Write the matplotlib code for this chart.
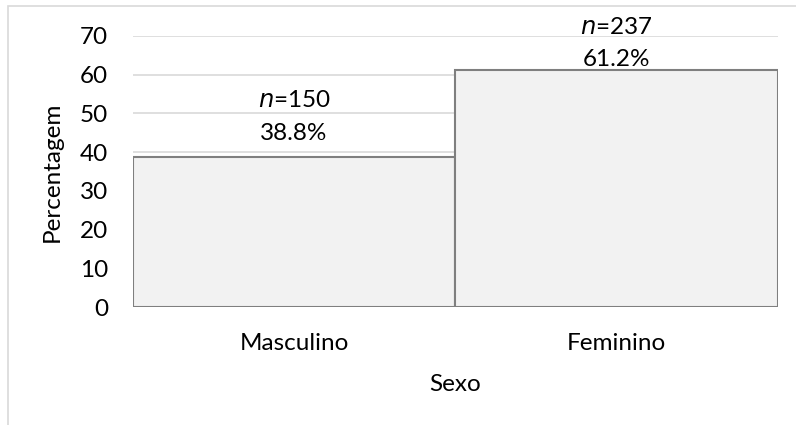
import matplotlib.pyplot as plt
from matplotlib.patches import Rectangle

# Distribuicao por sexo
categorias = ['Masculino', 'Feminino']
percentagens = [38.8, 61.2]
contagens = [150, 237]
yticks = [0, 10, 20, 30, 40, 50, 60, 70]

plt.rcParams['font.family'] = ['Lato', 'DejaVu Sans']
fs = 17.5

fig = plt.figure(figsize=(7.96, 4.25), dpi=100)
ax = fig.add_axes([0.167, 0.2776, 0.810, 0.638])

# moldura do grafico (estilo Excel)
fig.add_artist(Rectangle((8 / 796, -0.2), 1.2, (425 - 6) / 425 + 0.2,
                         transform=fig.transFigure, fill=False,
                         edgecolor='#d9d9d9', linewidth=1.2))

x = list(range(len(categorias)))
ax.bar(x, percentagens, width=1.0, color='#f2f2f2', edgecolor='#7f7f7f',
       linewidth=1.5, zorder=3)

ax.set_xlim(-0.5, 1.5)
ax.set_ylim(0, 70)
ax.set_yticks(yticks)
ax.yaxis.grid(True, color='#d9d9d9', linewidth=1.2, zorder=0)
ax.set_axisbelow(True)
for s in ax.spines.values():
    s.set_visible(False)
ax.tick_params(length=0, labelsize=fs, pad=18)
ax.tick_params(axis='x', pad=19)
ax.set_xticks(x)
ax.set_xticklabels(categorias)

# rotulos: percentagem e n por cima de cada barra
offsets = [(9, 24), (0, 23)]
for xi, p, n, (o1, o2) in zip(x, percentagens, contagens, offsets):
    ax.annotate(f'{p:.1f}%', (xi, p), xytext=(0, o1), textcoords='offset points',
                ha='center', va='bottom', fontsize=fs)
    ax.annotate(f'$n$={n}', (xi, p), xytext=(0, o1 + o2), textcoords='offset points',
                ha='center', va='bottom', fontsize=fs)

ax.set_ylabel('Percentagem', fontsize=fs, labelpad=12)
ax.set_xlabel('Sexo', fontsize=fs, labelpad=14)

fig.savefig('out.png', dpi=100)
